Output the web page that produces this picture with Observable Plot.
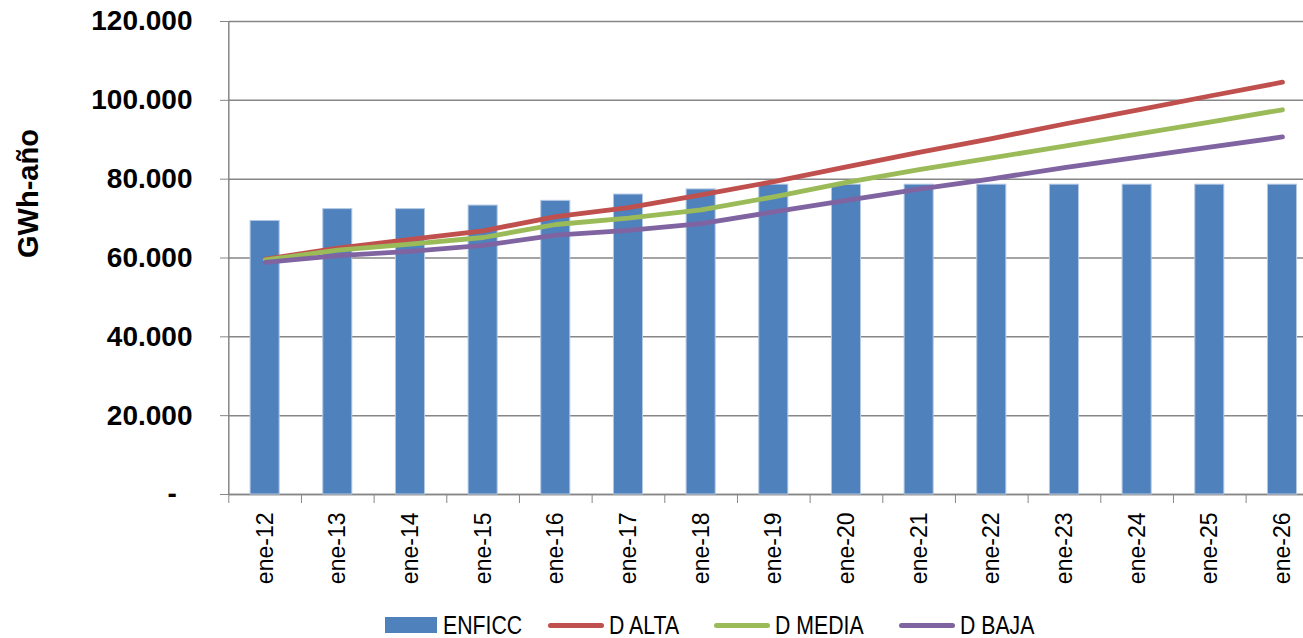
<!DOCTYPE html>
<html>
<head>
<meta charset="utf-8">
<script src="https://cdn.jsdelivr.net/npm/d3@7"></script>
<script src="https://cdn.jsdelivr.net/npm/@observablehq/plot@0.6"></script>
<style>
  body { margin: 0; background: #fff; }
  #wrap { position: relative; width: 1303px; height: 638px; overflow: hidden; background: #fff; }
  #chart { position: absolute; left: 0; top: 0; }
  .it { position: absolute; top: 613px; height: 24px; display: flex; align-items: center;
        font-family: "Liberation Sans", Arial, sans-serif;
        font-size: 25px; line-height: 24px; color: #000; white-space: nowrap; }
  .sw { width: 52px; height: 16px; margin-right: 6px; }
  .ln { width: 56px; height: 5px; border-radius: 3px; margin-right: 5px; }
  .tx { display: inline-block; transform: scaleX(0.85); transform-origin: 0 50%; }
</style>
</head>
<body>
<div id="wrap">
  <div id="chart"></div>
  <div id="legend"></div>
</div>
<script>
const categories = ["ene-12","ene-13","ene-14","ene-15","ene-16","ene-17","ene-18","ene-19","ene-20","ene-21","ene-22","ene-23","ene-24","ene-25","ene-26"];
const enficc = [69400, 72400, 72400, 73300, 74500, 76100, 77400, 78600, 78600, 78600, 78600, 78600, 78600, 78600, 78600];
const dAlta  = [59700, 62500, 64700, 66900, 70500, 72800, 76000, 79400, 83100, 86800, 90300, 94000, 97500, 101100, 104600];
const dMedia = [59500, 62000, 63500, 65200, 68500, 70100, 72200, 75500, 79200, 82400, 85400, 88400, 91400, 94500, 97600];
const dBaja  = [58900, 60600, 61700, 63200, 65800, 67000, 68700, 71700, 74600, 77500, 80100, 82900, 85500, 88100, 90700];
const seriesNames = ["D ALTA", "D MEDIA", "D BAJA"];
const seriesColors = ["#C0504D", "#9BBB59", "#8064A2"];
const barName = "ENFICC";
const barColor = "#4F81BD";
const yTicks = [0, 20000, 40000, 60000, 80000, 100000, 120000];
const yLabel = "GWh-año";

const bars = categories.map((c, i) => ({cat: c, v: enficc[i]}));
const seriesValues = [dAlta, dMedia, dBaja];
const lines = seriesNames.flatMap((s, k) => seriesValues[k].map((v, i) => ({serie: s, cat: categories[i], v})));

const xRange = [228.3, 1318.3];
const step = (xRange[1] - xRange[0]) / categories.length;
const fmt = d3.formatLocale({decimal: ",", thousands: ".", grouping: [3], currency: ["", ""]}).format(",.0f");
const gray = "#868686";

const chart = Plot.plot({
  width: 1303,
  height: 600,
  marginTop: 21,
  marginBottom: 106,
  marginLeft: 229,
  marginRight: 0,
  style: {fontFamily: "'Liberation Sans', Arial, sans-serif", background: "transparent", color: "#000"},
  x: {domain: categories, range: xRange, paddingInner: 0.6, paddingOuter: 0.3, round: false},
  y: {domain: [0, 120000]},
  color: {domain: seriesNames, range: seriesColors},
  marks: [
    Plot.gridY(yTicks, {stroke: gray, strokeOpacity: 1, strokeWidth: 1.5}),
    Plot.ruleY([0], {stroke: gray, strokeWidth: 1.5}),
    Plot.ruleX([categories[0]], {dx: -step / 2, stroke: gray, strokeWidth: 1.5}),
    Plot.axisY(yTicks, {tickSize: 9, tickPadding: 28, tickFormat: d => d === 0 ? "-\u00a0\u00a0" : fmt(d),
      fontSize: 28, fontWeight: "bold", stroke: gray, fill: "#000", label: null}),
    Plot.axisX(categories, {tickSize: 9, tickFormat: () => "", dx: -step / 2, stroke: gray, label: null}),
    Plot.axisX(categories, {tickSize: 0, tickPadding: 18, tickRotate: -90, fontSize: 23, fill: "#000", label: null}),
    Plot.barY(bars, {x: "cat", y: "v", fill: barColor, stroke: "#B3C8E3", strokeWidth: 1}),
    Plot.line(lines, {x: "cat", y: "v", z: "serie", stroke: "serie", strokeWidth: 4.8,
      strokeLinecap: "round", strokeLinejoin: "round"}),
    Plot.text([yLabel], {frameAnchor: "left", rotate: -90, dx: -201, fontSize: 29, fontWeight: "bold", fill: "#000"})
  ]
});
document.getElementById("chart").appendChild(chart);

const legend = document.getElementById("legend");
const items = [
  {name: barName, color: barColor, kind: "sw", left: 385},
  {name: seriesNames[0], color: seriesColors[0], kind: "ln", left: 548},
  {name: seriesNames[1], color: seriesColors[1], kind: "ln", left: 714},
  {name: seriesNames[2], color: seriesColors[2], kind: "ln", left: 899}
];
for (const it of items) {
  const d = document.createElement("div");
  d.className = "it";
  d.style.left = it.left + "px";
  const s = document.createElement("span");
  s.className = it.kind;
  s.style.background = it.color;
  s.style.display = "inline-block";
  d.appendChild(s);
  const t = document.createElement("span");
  t.className = "tx";
  t.textContent = it.name;
  d.appendChild(t);
  legend.appendChild(d);
}
</script>
</body>
</html>
